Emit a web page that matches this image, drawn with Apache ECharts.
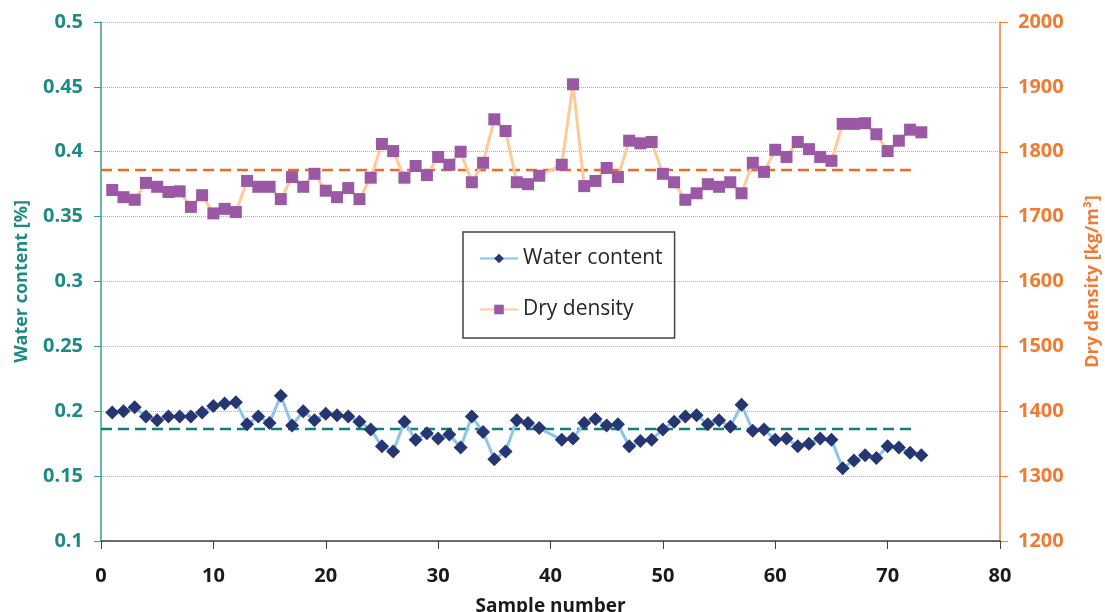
<!DOCTYPE html>
<html>
<head>
<meta charset="utf-8">
<script src="https://cdn.jsdelivr.net/npm/echarts@6/dist/echarts.min.js"></script>
<style>
  html, body { margin: 0; padding: 0; background: #fff; }
  #chart { width: 1105px; height: 612px; }
</style>
</head>
<body>
<div id="chart"></div>
<script>
// sample numbers 1..73 (no measurement at 40)
const sampleNo = [
  1, 2, 3, 4, 5, 6, 7, 8, 9, 10, 11, 12, 13, 14, 15, 16, 17, 18, 19, 20,
  21, 22, 23, 24, 25, 26, 27, 28, 29, 30, 31, 32, 33, 34, 35, 36, 37, 38, 39, 40,
  41, 42, 43, 44, 45, 46, 47, 48, 49, 50, 51, 52, 53, 54, 55, 56, 57, 58, 59, 60,
  61, 62, 63, 64, 65, 66, 67, 68, 69, 70, 71, 72, 73
]

const waterContent = [
  0.199, 0.200, 0.203, 0.196, 0.193, 0.196, 0.196, 0.196, 0.199, 0.204,
  0.206, 0.207, 0.190, 0.196, 0.191, 0.212, 0.189, 0.200, 0.193, 0.198,
  0.197, 0.196, 0.192, 0.186, 0.173, 0.169, 0.192, 0.178, 0.183, 0.179,
  0.182, 0.172, 0.196, 0.184, 0.163, 0.169, 0.193, 0.191, 0.187, null,
  0.178, 0.179, 0.191, 0.194, 0.189, 0.190, 0.173, 0.177, 0.178, 0.186,
  0.192, 0.196, 0.197, 0.190, 0.193, 0.188, 0.205, 0.185, 0.186, 0.178,
  0.179, 0.173, 0.175, 0.179, 0.178, 0.156, 0.162, 0.166, 0.164, 0.173,
  0.172, 0.168, 0.166
]

const dryDensity = [
  1741, 1730, 1726, 1752, 1746, 1738, 1739, 1715, 1733, 1705,
  1712, 1707, 1755, 1746, 1746, 1727, 1761, 1746, 1766, 1740,
  1730, 1744, 1727, 1760, 1812, 1801, 1760, 1778, 1764, 1792,
  1780, 1800, 1753, 1783, 1850, 1832, 1753, 1750, 1763, null,
  1780, 1904, 1747, 1755, 1775, 1761, 1817, 1813, 1815, 1766,
  1753, 1726, 1736, 1750, 1746, 1753, 1736, 1783, 1769, 1803,
  1792, 1815, 1804, 1792, 1786, 1843, 1843, 1844, 1827, 1801,
  1817, 1834, 1830
]

// mean lines
const meanRange = [0, 72.6]
const waterMean = 0.1863
const densityMean = 1772

const xTicks = [0, 80, 10]        // min, max, interval
const waterTicks = [0.1, 0.5, 0.05]
const densityTicks = [1200, 2000, 100]

const teal = '#1E8A85'
const orange = '#F07B33'
const font = 'Open Sans'

const pair = (xs, ys) => xs.map((x, i) => [x, ys[i]])

const chart = echarts.init(document.getElementById('chart'), null, { renderer: 'canvas' })

chart.setOption({
  animation: false,
  textStyle: { fontFamily: font },
  grid: { left: 101, right: 105, top: 22, bottom: 71, outerBoundsMode: 'none', containLabel: false },
  legend: {
    data: ['Water content', 'Dry density'],
    orient: 'vertical',
    left: 463,
    top: 232,
    padding: [16, 12, 18, 16],
    itemGap: 30,
    itemWidth: 38,
    itemHeight: 12,
    borderColor: '#444',
    borderWidth: 1.5,
    borderRadius: 0,
    textStyle: { fontSize: 21, color: '#262626', fontFamily: font }
  },
  xAxis: {
    type: 'value',
    min: xTicks[0],
    max: xTicks[1],
    interval: xTicks[2],
    name: 'Sample number',
    nameLocation: 'middle',
    nameGap: 56,
    nameTextStyle: { fontSize: 19, fontWeight: 'bold', color: '#1a1a1a', fontFamily: font },
    axisLine: { show: true, onZero: false, lineStyle: { color: '#404040', width: 1.5 } },
    axisTick: { show: true, length: 8, lineStyle: { color: '#404040' } },
    axisLabel: { fontSize: 20, fontWeight: 'bold', color: '#1a1a1a', margin: 25, fontFamily: font },
    splitLine: { show: false }
  },
  yAxis: [
    {
      type: 'value',
      min: waterTicks[0],
      max: waterTicks[1],
      interval: waterTicks[2],
      name: 'Water content [%]',
      nameLocation: 'middle',
      nameGap: 70,
      nameTextStyle: { fontSize: 18, fontWeight: 'bold', color: teal, fontFamily: font },
      axisLine: { show: true, lineStyle: { color: '#3A9C97', width: 1.5 } },
      axisTick: { show: true, length: 7, lineStyle: { color: '#3A9C97' } },
      axisLabel: { fontSize: 20, fontWeight: 'bold', color: teal, margin: 18, fontFamily: font },
      splitLine: { show: true, lineStyle: { color: '#b0b0b0', type: 'dotted', width: 1 } }
    },
    {
      type: 'value',
      min: densityTicks[0],
      max: densityTicks[1],
      interval: densityTicks[2],
      name: 'Dry density [kg/m³]',
      nameLocation: 'middle',
      nameGap: 84,
      nameRotate: 90,
      nameTextStyle: { fontSize: 18, fontWeight: 'bold', color: orange, fontFamily: font },
      axisLine: { show: true, lineStyle: { color: orange, width: 1.5 } },
      axisTick: { show: true, length: 8, lineStyle: { color: orange } },
      axisLabel: { fontSize: 20, fontWeight: 'bold', color: orange, margin: 18, fontFamily: font, formatter: v => String(v) },
      splitLine: { show: false }
    }
  ],
  series: [
    {
      name: 'Water content',
      type: 'line',
      yAxisIndex: 0,
      data: pair(sampleNo, waterContent),
      connectNulls: true,
      symbol: 'diamond',
      symbolSize: 14,
      itemStyle: { color: '#263672' },
      lineStyle: { color: '#8EC4EA', width: 3 },
      z: 3
    },
    {
      name: 'Dry density',
      type: 'line',
      yAxisIndex: 1,
      data: pair(sampleNo, dryDensity),
      connectNulls: true,
      symbol: 'rect',
      symbolSize: 12,
      itemStyle: { color: '#9B58A5' },
      lineStyle: { color: '#FFC999', width: 3 },
      z: 3
    },
    {
      name: 'Water mean',
      type: 'line',
      yAxisIndex: 0,
      data: meanRange.map(x => [x, waterMean]),
      symbol: 'none',
      lineStyle: { color: '#137F7A', width: 2.5, type: [11, 6] },
      z: 2,
      silent: true
    },
    {
      name: 'Density mean',
      type: 'line',
      yAxisIndex: 1,
      data: meanRange.map(x => [x, densityMean]),
      symbol: 'none',
      lineStyle: { color: '#EE6A25', width: 2.5, type: [11, 6] },
      z: 2,
      silent: true
    }
  ]
})

window.addEventListener('resize', () => chart.resize())
</script>
</body>
</html>
